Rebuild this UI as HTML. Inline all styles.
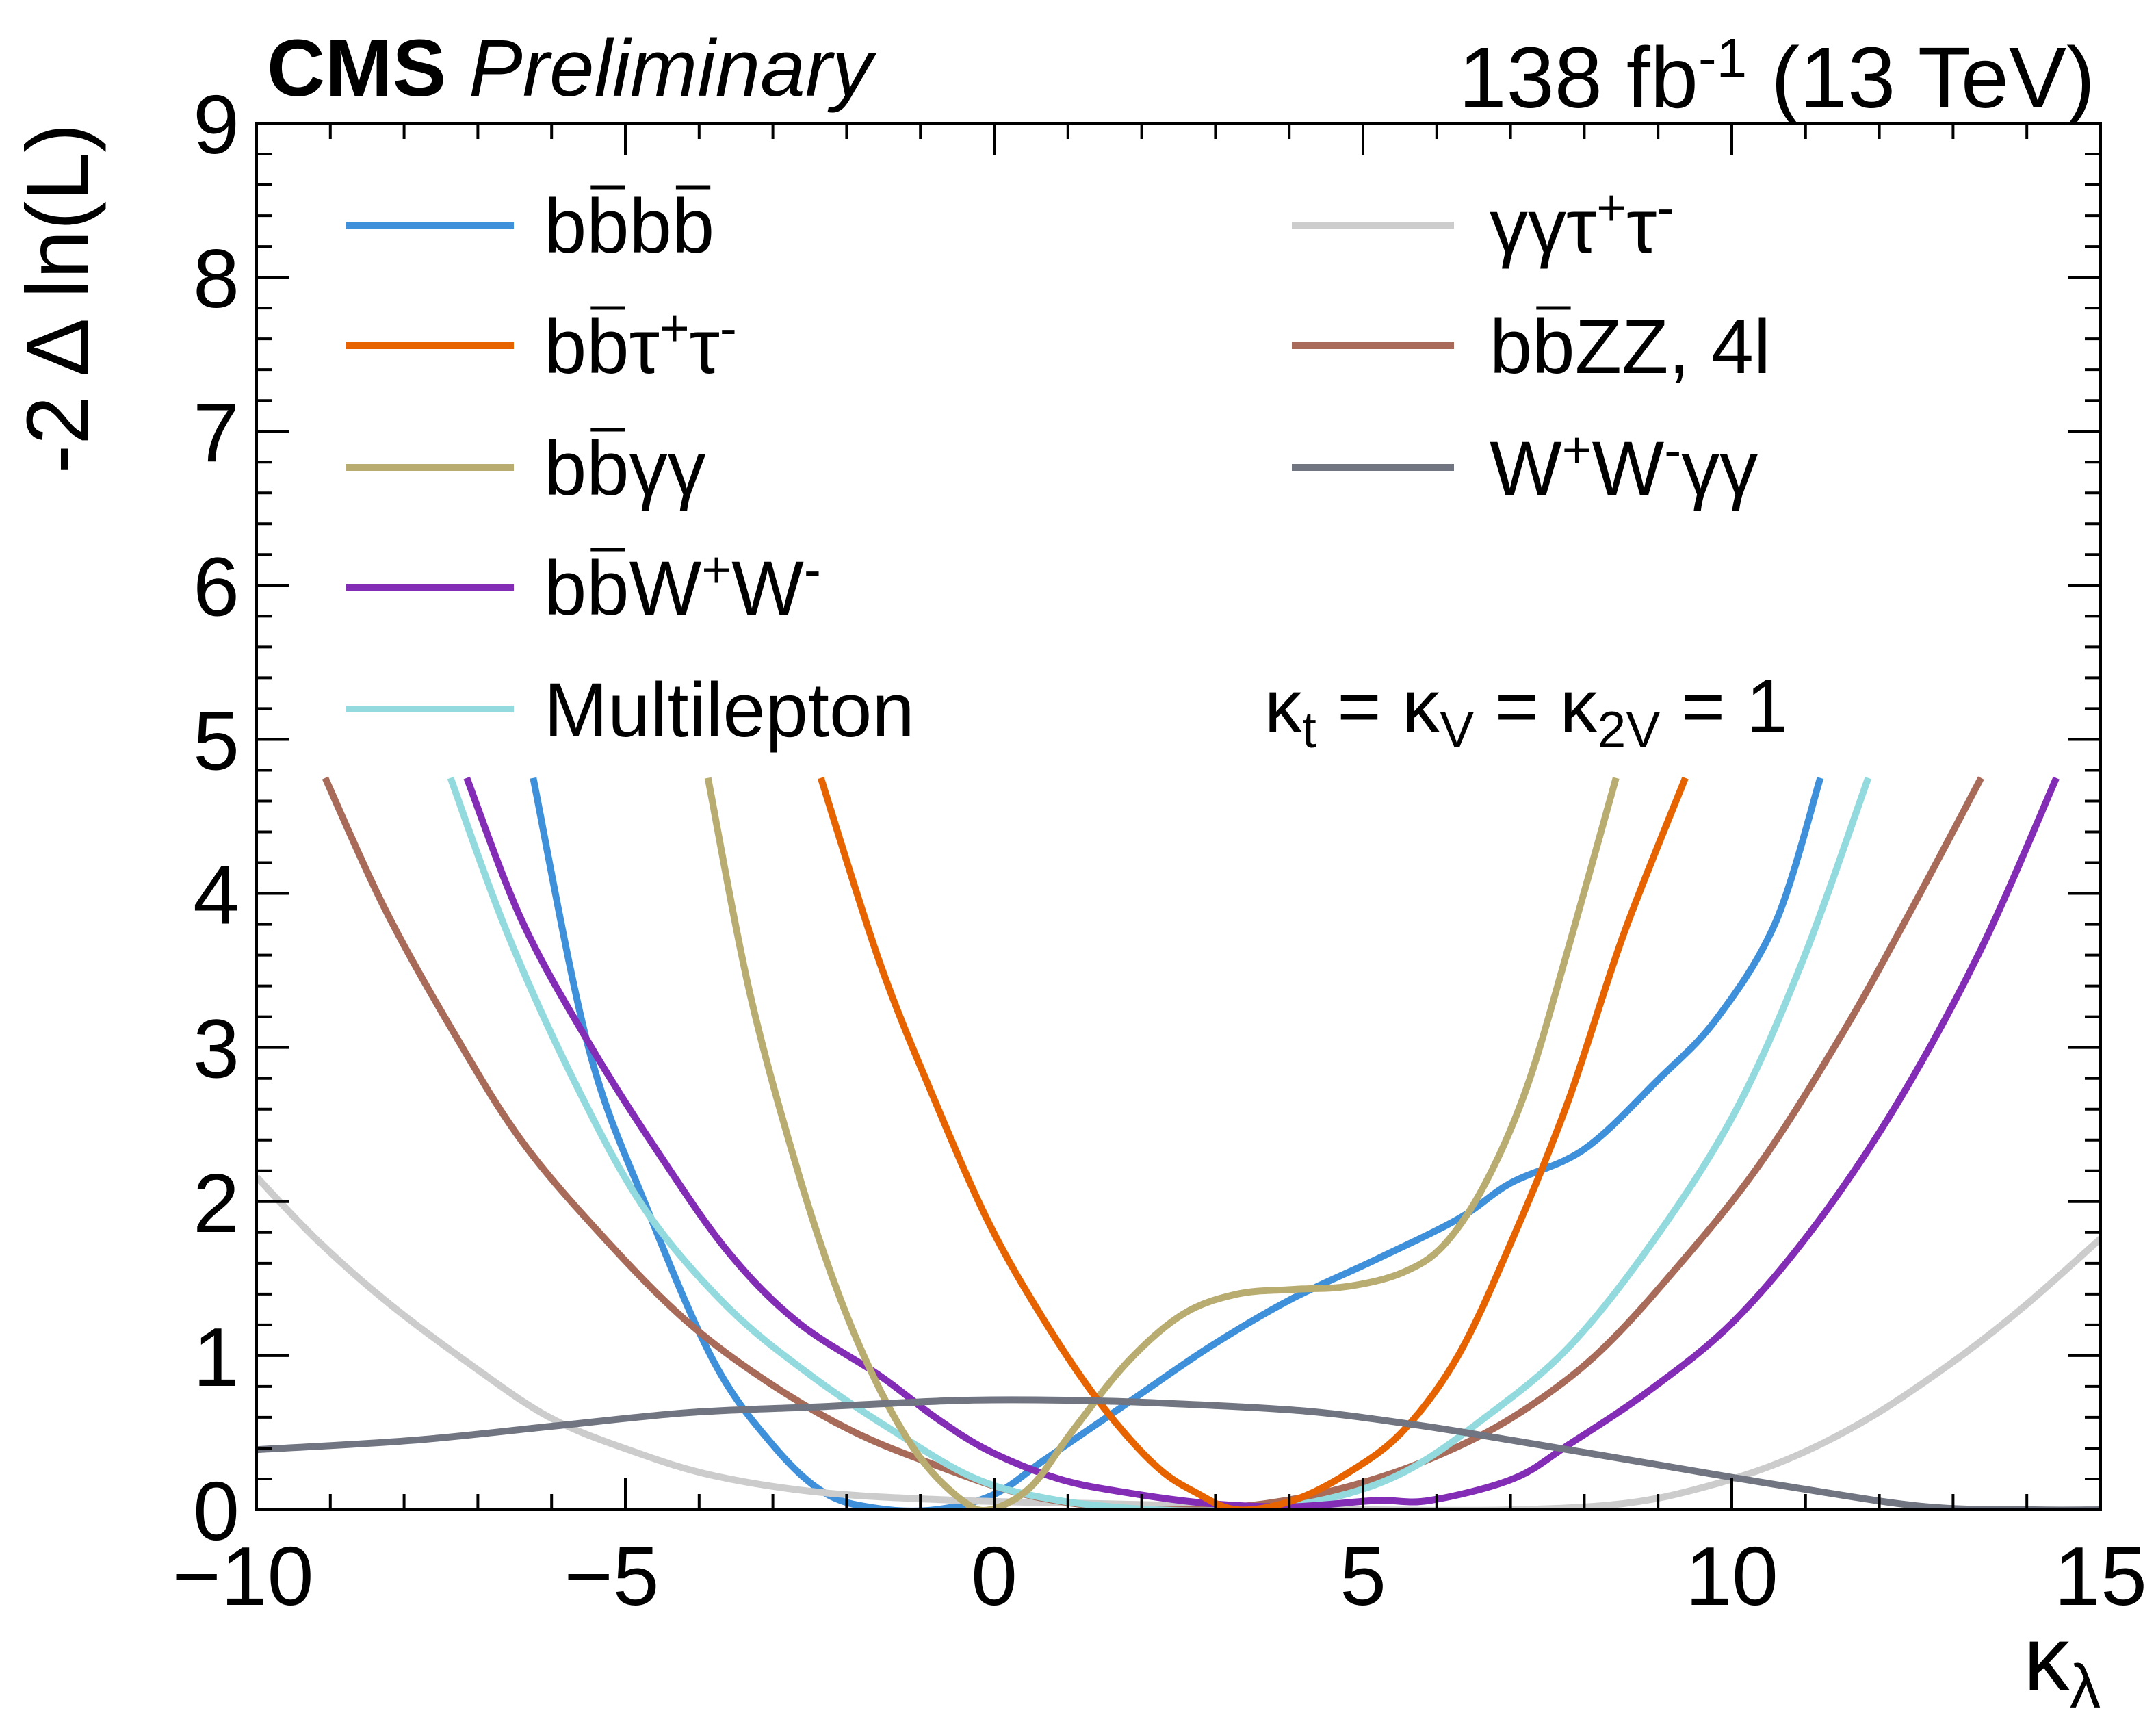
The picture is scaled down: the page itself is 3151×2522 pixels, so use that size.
<!DOCTYPE html>
<html><head><meta charset="utf-8"><style>
html,body{margin:0;padding:0;background:#fff;}
svg{display:block;font-family:"Liberation Sans",sans-serif;}
</style></head><body>
<svg id="chart" width="3151" height="2522" viewBox="0 0 3151 2522" xmlns="http://www.w3.org/2000/svg">
<defs><clipPath id="plotclip"><rect x="375" y="180" width="2695" height="2026"/></clipPath></defs>
<g id="curves" clip-path="url(#plotclip)"></g>
<g id="axes"></g>
<text x="390" y="140" font-size="118" font-weight="bold">CMS <tspan font-style="italic" font-weight="normal">Preliminary</tspan></text>
<text x="3062" y="157" font-size="126" text-anchor="end">138 fb<tspan dy="-45" font-size="80">-1</tspan><tspan dy="45"> (13 TeV)</tspan></text>
<text transform="translate(128,180) rotate(-90)" font-size="128" text-anchor="end">-2 Δ ln(L)</text>
<text x="3070" y="2470" font-size="135" text-anchor="end">κ<tspan dy="25" font-size="90">λ</tspan></text>
<text x="1848" y="1070" font-size="110">κ<tspan dy="22" font-size="75">t</tspan><tspan dy="-22"> = κ</tspan><tspan dy="22" font-size="75">V</tspan><tspan dy="-22"> = κ</tspan><tspan dy="22" font-size="75">2V</tspan><tspan dy="-22"> = 1</tspan></text>
<g id="legend"></g>
</svg>
<script>
const xTicks = [-10, -5, 0, 5, 10, 15];
const xTickLabels = ["\u221210", "\u22125", "0", "5", "10", "15"];
const yTicks = [0, 1, 2, 3, 4, 5, 6, 7, 8, 9];
const yTickLabels = ["0", "1", "2", "3", "4", "5", "6", "7", "8", "9"];

const bbbbX = [-6.25,-5.5,-4.7,-3.8,-3,-2.3,-1.6,-0.8,0,0.7,1.8,2.9,4,5.2,6.3,7,8,9,9.8,10.6,11.2];
const bbbbY = [4.75,3.0,1.95,0.96,0.42,0.11,0.01,0.0,0.1,0.33,0.69,1.05,1.36,1.63,1.89,2.12,2.34,2.79,3.19,3.82,4.75];
const bbttX = [-2.35,-1.55,-0.8,-0.06,0.69,1.44,2.18,2.74,3.3,4.05,4.8,5.54,6.29,7.03,7.78,8.53,9.37];
const bbttY = [4.75,3.55,2.65,1.85,1.22,0.69,0.29,0.11,0,0.06,0.24,0.51,1.0,1.76,2.65,3.73,4.75];
const bbggX = [-3.88,-3.32,-2.67,-2.11,-1.55,-0.99,-0.43,-0.06,0.5,1.06,1.81,2.56,3.3,4.05,4.8,5.54,6.1,6.66,7.22,7.78,8.43];
const bbggY = [4.75,3.37,2.21,1.4,0.78,0.33,0.06,0,0.15,0.51,0.96,1.27,1.4,1.43,1.45,1.54,1.72,2.12,2.74,3.64,4.75];
const bbwwX = [-7.15,-6.4,-5.47,-4.53,-3.6,-2.67,-1.55,-0.8,-0.06,0.88,1.81,2.93,4.05,5.17,5.9,7.03,7.78,8.9,10.02,11.14,12.26,13.38,14.4];
const bbwwY = [4.75,3.82,3.01,2.3,1.67,1.22,0.87,0.6,0.38,0.2,0.11,0.04,0.02,0.06,0.06,0.2,0.42,0.78,1.22,1.85,2.65,3.64,4.75];
const mlX = [-7.37,-6.59,-5.65,-4.72,-3.6,-2.48,-1.36,-0.24,0.88,2.18,3.3,4.42,5.54,6.66,7.78,8.9,10.02,10.95,11.85];
const mlY = [4.75,3.73,2.74,1.94,1.31,0.87,0.51,0.2,0.06,0,0,0.06,0.24,0.6,1.05,1.72,2.56,3.55,4.75];
const bbzzX = [-9.07,-8.26,-7.33,-6.4,-5.28,-4.16,-3.04,-1.92,-0.8,0.32,1.44,2.56,3.68,4.8,5.91,7.03,8.15,9.27,10.39,11.51,12.44,13.38];
const bbzzY = [4.75,3.9,3.1,2.39,1.76,1.22,0.82,0.51,0.29,0.11,0.02,0,0.04,0.15,0.33,0.6,1.0,1.58,2.25,3.1,3.9,4.75];
const ggttX = [-10,-9.2,-8.26,-7.15,-6.03,-4.9,-3.79,-2.3,-0.43,1.44,3.3,5.17,7.03,8.53,9.65,10.77,11.88,13.0,13.94,15];
const ggttY = [2.16,1.76,1.36,0.96,0.6,0.38,0.22,0.11,0.06,0.04,0.02,0,0,0.04,0.15,0.33,0.6,0.96,1.31,1.76];
const wwggX = [-10,-7.9,-6.03,-4.16,-2.3,-0.43,1.06,2.37,4.23,5.73,7.03,8.9,10.77,12.63,14.1,15];
const wwggY = [0.39,0.45,0.54,0.63,0.67,0.71,0.71,0.69,0.64,0.55,0.45,0.3,0.15,0.02,0,0];

const NS = "http://www.w3.org/2000/svg";
const X0 = 375, X1 = 3070, Y0 = 2206, Y1 = 180;
function sx(v){ return X0 + (v + 10) / 25 * (X1 - X0); }
function sy(v){ return Y0 - v / 9 * (Y0 - Y1); }
function mk(tag, attrs, parent){ const e = document.createElementNS(NS, tag); for (const k in attrs) e.setAttribute(k, attrs[k]); parent.appendChild(e); return e; }
function smoothPath(P){
  let d = "M" + P[0][0].toFixed(1) + "," + P[0][1].toFixed(1);
  for (let i = 0; i < P.length - 1; i++) {
    const p0 = P[Math.max(0,i-1)], p1 = P[i], p2 = P[i+1], p3 = P[Math.min(P.length-1,i+2)];
    const c1 = [p1[0] + (p2[0]-p0[0])/6, p1[1] + (p2[1]-p0[1])/6];
    const c2 = [p2[0] - (p3[0]-p1[0])/6, p2[1] - (p3[1]-p1[1])/6];
    d += " C" + c1[0].toFixed(1) + "," + c1[1].toFixed(1) + " " + c2[0].toFixed(1) + "," + c2[1].toFixed(1) + " " + p2[0].toFixed(1) + "," + p2[1].toFixed(1);
  }
  return d;
}

const series = [
  {name:"curve-bbbb", xs:bbbbX, ys:bbbbY, c:"#3f90da"},
  {name:"curve-ggtautau", xs:ggttX, ys:ggttY, c:"#cccccc"},
  {name:"curve-bbzz", xs:bbzzX, ys:bbzzY, c:"#a96b59"},
  {name:"curve-multilepton", xs:mlX, ys:mlY, c:"#92dadd"},
  {name:"curve-bbww", xs:bbwwX, ys:bbwwY, c:"#832db6"},
  {name:"curve-bbgg", xs:bbggX, ys:bbggY, c:"#b9ac70"},
  {name:"curve-bbtautau", xs:bbttX, ys:bbttY, c:"#e76300"},
  {name:"curve-wwgg", xs:wwggX, ys:wwggY, c:"#717581"}
];
const cg = document.getElementById("curves");
series.forEach(s => {
  const P = s.xs.map((x,i) => [sx(x), sy(s.ys[i])]);
  const p = mk("path", {d:smoothPath(P), fill:"none", stroke:s.c, "stroke-width":10, "stroke-linejoin":"round"}, cg);
  
  
});

const ag = document.getElementById("axes");
const frame = mk("rect", {x:X0, y:Y1, width:X1-X0, height:Y0-Y1, fill:"none", stroke:"#000", "stroke-width":4}, ag);


for (let v = -10; v <= 15; v++) {
  const L = (v % 5 === 0) ? 47 : 23;
  const x = sx(v);
  const t1 = mk("line", {x1:x, x2:x, y1:Y0, y2:Y0-L, stroke:"#000", "stroke-width":4}, ag);
  
  
  const t2 = mk("line", {x1:x, x2:x, y1:Y1, y2:Y1+L, stroke:"#000", "stroke-width":4}, ag);
  
  
}
for (let k = 0; k <= 45; k++) {
  const v = k * 0.2;
  const L = (k % 5 === 0) ? 47 : 23;
  const y = sy(v);
  const t1 = mk("line", {x1:X0, x2:X0+L, y1:y, y2:y, stroke:"#000", "stroke-width":4}, ag);
  
  
  const t2 = mk("line", {x1:X1, x2:X1-L, y1:y, y2:y, stroke:"#000", "stroke-width":4}, ag);
  
  
}
xTicks.forEach((v,i) => {
  const t = mk("text", {x:sx(v) + (v < 0 ? -20 : 0), y:2345, "font-size":122, "text-anchor":"middle"}, ag);
  t.textContent = xTickLabels[i];
  
  
});
yTicks.forEach((v,i) => {
  const t = mk("text", {x:350, y:sy(v)+44, "font-size":122, "text-anchor":"end"}, ag);
  t.textContent = yTickLabels[i];
  
  
});

const lg = document.getElementById("legend");
const legendItems = [
  {n:"legend-bbbb", c:"#3f90da", col:0, row:0, html:'b<tspan class="bar">b</tspan>b<tspan class="bar">b</tspan>'},
  {n:"legend-bbtautau", c:"#e76300", col:0, row:1, html:'b<tspan class="bar">b</tspan>τ<tspan dy="-40" font-size="75">+</tspan><tspan dy="40">τ</tspan><tspan dy="-40" font-size="75">-</tspan>'},
  {n:"legend-bbgg", c:"#b9ac70", col:0, row:2, html:'b<tspan class="bar">b</tspan>γγ'},
  {n:"legend-bbww", c:"#832db6", col:0, row:3, html:'b<tspan class="bar">b</tspan>W<tspan dy="-40" font-size="75">+</tspan><tspan dy="40">W</tspan><tspan dy="-40" font-size="75">-</tspan>'},
  {n:"legend-multilepton", c:"#92dadd", col:0, row:4, html:'Multilepton'},
  {n:"legend-ggtautau", c:"#cccccc", col:1, row:0, html:'γγτ<tspan dy="-40" font-size="75">+</tspan><tspan dy="40">τ</tspan><tspan dy="-40" font-size="75">-</tspan>'},
  {n:"legend-bbzz", c:"#a96b59", col:1, row:1, html:'b<tspan class="bar">b</tspan>ZZ, 4l'},
  {n:"legend-wwgg", c:"#717581", col:1, row:2, html:'W<tspan dy="-40" font-size="75">+</tspan><tspan dy="40">W</tspan><tspan dy="-40" font-size="75">-</tspan><tspan dy="40">γγ</tspan>'}
];
const rowY = [329, 505, 683, 858, 1036];
const colLine = [[505,751],[1888,2125]];
const colText = [795, 2177];
legendItems.forEach(it => {
  const g = mk("g", {}, lg);
  
  
  const y = rowY[it.row];
  mk("line", {x1:colLine[it.col][0], x2:colLine[it.col][1], y1:y, y2:y, stroke:it.c, "stroke-width":10}, g);
  const t = mk("text", {x:colText[it.col], y:y+40, "font-size":112}, g);
  t.innerHTML = it.html;
  t.querySelectorAll(".bar").forEach(b => {
    try {
      const bb = b.getBBox();
      const ln = mk("line", {x1:bb.x+6, x2:bb.x+bb.width-6, y1:y-55, y2:y-55, stroke:"#000", "stroke-width":5}, g);
      
      
    } catch(e) {}
  });
});
</script>
</body></html>
